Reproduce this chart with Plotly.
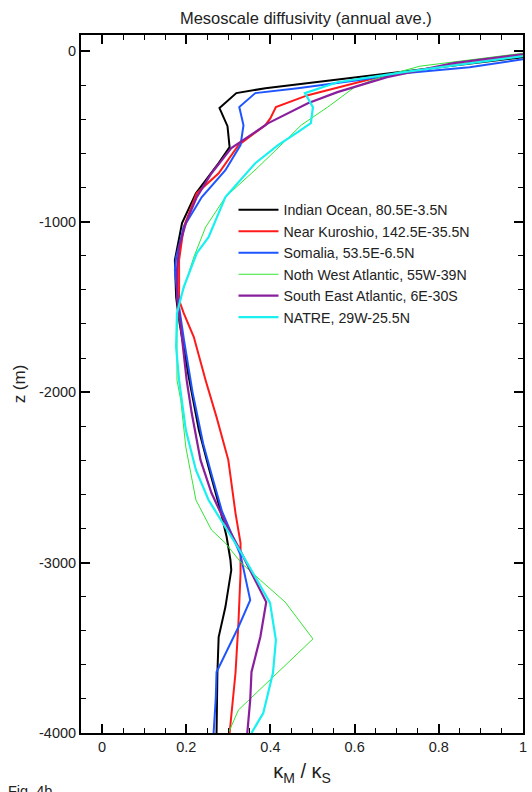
import plotly.graph_objects as go

# Ratio of momentum to tracer mesoscale diffusivity vs depth (annual average)
indian_x = [1.0, 0.607, 0.388, 0.319, 0.279, 0.298, 0.303, 0.277, 0.223, 0.190, 0.173, 0.176, 0.183,
            0.206, 0.230, 0.253, 0.281, 0.296, 0.305, 0.307, 0.293, 0.277, 0.274, 0.272]
indian_z = [-35, -152, -217, -246, -334, -440, -563, -657, -833, -1009, -1226, -1443, -1578,
            -1912, -2223, -2440, -2692, -2850, -2985, -3044, -3261, -3437, -3648, -4000]

kuroshio_x = [1.0, 0.795, 0.66, 0.489, 0.413, 0.400, 0.388, 0.324, 0.277, 0.225, 0.194, 0.183, 0.183,
              0.194, 0.218, 0.246, 0.272, 0.300, 0.317, 0.329, 0.329, 0.324, 0.317, 0.303]
kuroshio_z = [-23, -94, -150, -258, -328, -393, -434, -551, -716, -833, -1032, -1226, -1460,
              -1537, -1677, -1930, -2147, -2399, -2710, -2886, -3061, -3355, -3648, -4000]

somalia_x = [1.0, 0.873, 0.717, 0.607, 0.465, 0.364, 0.326, 0.336, 0.329, 0.293, 0.237, 0.194, 0.176,
             0.173, 0.180, 0.195, 0.215, 0.240, 0.262, 0.285, 0.329, 0.340, 0.352, 0.324, 0.272,
             0.270, 0.265]
somalia_z = [-47, -94, -129, -170, -217, -246, -328, -434, -551, -698, -856, -1032, -1208,
             -1284, -1450, -1700, -2000, -2300, -2500, -2700, -2956, -3073, -3220, -3378, -3642,
             -3806, -4000]

nwatl_x = [1.0, 0.755, 0.661, 0.600, 0.536, 0.473, 0.425, 0.371, 0.293, 0.246, 0.218, 0.194, 0.183,
           0.178, 0.178, 0.187, 0.199, 0.223, 0.260, 0.293, 0.331, 0.376, 0.435, 0.501, 0.324, 0.300]
nwatl_z = [-12, -88, -152, -211, -328, -434, -551, -680, -856, -1032, -1208, -1384, -1478,
           -1654, -1930, -2047, -2323, -2633, -2809, -2886, -3003, -3103, -3232, -3448, -3865, -4000]

seatl_x = [1.0, 0.835, 0.677, 0.559, 0.489, 0.395, 0.307, 0.260, 0.225, 0.199, 0.183, 0.178, 0.178,
           0.187, 0.201, 0.213, 0.234, 0.260, 0.293, 0.324, 0.355, 0.390, 0.376, 0.355, 0.352, 0.345]
seatl_z = [-18, -70, -152, -240, -305, -422, -569, -716, -856, -1009, -1150, -1284, -1443,
           -1619, -1930, -2123, -2399, -2592, -2768, -2909, -3061, -3232, -3437, -3642, -3806, -4000]

natre_x = [1.0, 0.717, 0.559, 0.482, 0.501, 0.496, 0.465, 0.418, 0.364, 0.293, 0.253, 0.225, 0.194,
           0.178, 0.176, 0.183, 0.199, 0.223, 0.253, 0.293, 0.331, 0.364, 0.399, 0.413, 0.406,
           0.383, 0.355]
natre_z = [-29, -123, -182, -246, -328, -422, -475, -551, -657, -856, -1091, -1185, -1384,
           -1537, -1736, -1930, -2223, -2457, -2633, -2792, -2944, -3085, -3237, -3455, -3648,
           -3883, -4000]

names = ["Indian Ocean, 80.5E-3.5N", "Near Kuroshio, 142.5E-35.5N", "Somalia, 53.5E-6.5N",
         "Noth West Atlantic, 55W-39N", "South East Atlantic, 6E-30S", "NATRE, 29W-25.5N"]

x_tickvals = [0, 0.2, 0.4, 0.6, 0.8, 1.0]
x_ticktext = ["0", "0.2", "0.4", "0.6", "0.8", "1"]
y_tickvals = [0, -1000, -2000, -3000, -4000]
y_ticktext = ["0", "-1000", "-2000", "-3000", "-4000"]

series = [
    (indian_x, indian_z, "#000000", 2),
    (kuroshio_x, kuroshio_z, "#ff1a1a", 2),
    (somalia_x, somalia_z, "#1f55ff", 2),
    (nwatl_x, nwatl_z, "#33e633", 1),
    (seatl_x, seatl_z, "#8a1f9e", 2.2),
    (natre_x, natre_z, "#19f0f0", 2.2),
]

fig = go.Figure()
for (xs, zs, col, w), nm in zip(series, names):
    fig.add_trace(go.Scatter(x=xs, y=zs, mode="lines", name=nm,
                             line=dict(color=col, width=w)))

font_family = "Liberation Sans, Arial, sans-serif"
text_col = "#222222"

axis_common = dict(
    showgrid=False, zeroline=False,
    showline=True, linecolor="black", linewidth=2, mirror="ticks",
    ticks="inside", ticklen=9, tickwidth=2, tickcolor="black",
    tickfont=dict(family=font_family, size=14.5, color=text_col),
)

fig.update_xaxes(
    range=[-0.05, 1.0], tickmode="array", tickvals=x_tickvals, ticktext=x_ticktext,
    minor=dict(dtick=0.05, ticklen=5, tickwidth=1, ticks="inside", tickcolor="black"),
    title=dict(text="κ<sub>M</sub> / κ<sub>S</sub>",
               font=dict(family=font_family, size=20, color=text_col), standoff=10),
    **axis_common,
)
fig.update_yaxes(
    range=[-4000, 95], tickmode="array", tickvals=y_tickvals, ticktext=y_ticktext,
    minor=dict(dtick=200, ticklen=5, tickwidth=1, ticks="inside", tickcolor="black"),
    title=dict(text="z (m)", font=dict(family=font_family, size=17, color=text_col), standoff=9),
    **axis_common,
)

fig.update_layout(
    width=532, height=792,
    margin=dict(l=81, r=5, t=35, b=59),
    plot_bgcolor="white", paper_bgcolor="white",
    title=dict(text="Mesoscale diffusivity (annual ave.)", x=0.575, xanchor="center",
               y=0.977, yanchor="middle",
               font=dict(family=font_family, size=16.5, color=text_col)),
    showlegend=True,
    legend=dict(x=0.345, y=0.772, xanchor="left", yanchor="top",
                bgcolor="rgba(0,0,0,0)", borderwidth=0,
                font=dict(family=font_family, size=14.2, color=text_col),
                itemwidth=40, tracegroupgap=0),
    annotations=[dict(text="Fig. 4b", xref="paper", yref="paper", x=-0.17, y=-0.069,
                      xanchor="left", yanchor="top", showarrow=False,
                      font=dict(family=font_family, size=14.5, color=text_col))],
)

fig.write_html("out.html")
